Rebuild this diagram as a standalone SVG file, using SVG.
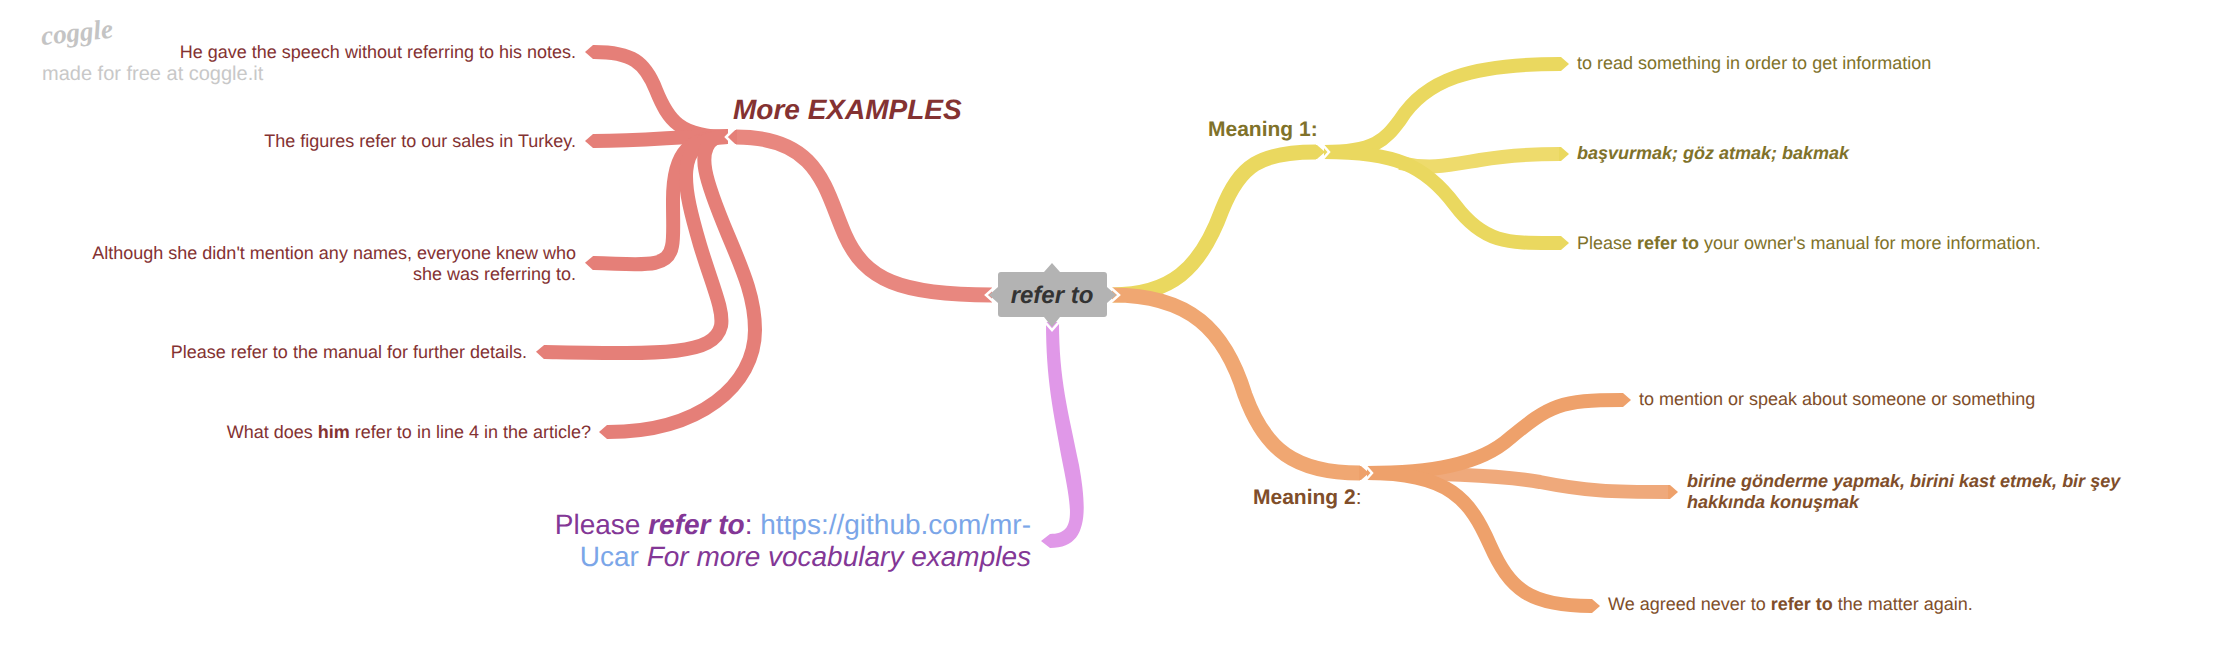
<svg xmlns="http://www.w3.org/2000/svg" width="2220" height="664" viewBox="0 0 2220 664">
<style>
text{font-family:"Liberation Sans",Arial,sans-serif;font-size:18px;text-rendering:geometricPrecision}
.c{fill:none;stroke-width:14;stroke-linecap:butt}
.r{stroke:#e57f78}.rm{stroke:#e8877f;stroke-width:15}.y{stroke:#ead85f}.yb{stroke:#eedb6c}.ym{stroke:#ead85f;stroke-width:15}.o{stroke:#eea16b}.ob{stroke:#efa97b}.om{stroke:#f0a772;stroke-width:15}
.t{fill:#fff}.n{fill:none;stroke:#fff;stroke-width:2.5}
.tr{fill:#843232}.ty{fill:#80722a}.to{fill:#804e2a}.tp{fill:#833796}
.b{font-weight:bold}.i{font-style:italic}
</style>
<defs>
<marker id="mr" markerUnits="userSpaceOnUse" markerWidth="14" markerHeight="16" refX="1" refY="8" orient="auto"><path d="M0 1H2L10 8L2 15H0Z" fill="#e57f78"/></marker>
<marker id="my" markerUnits="userSpaceOnUse" markerWidth="14" markerHeight="16" refX="1" refY="8" orient="auto"><path d="M0 1H2L10 8L2 15H0Z" fill="#ead85f"/></marker>
<marker id="mo" markerUnits="userSpaceOnUse" markerWidth="14" markerHeight="16" refX="1" refY="8" orient="auto"><path d="M0 1H2L10 8L2 15H0Z" fill="#eea16b"/></marker>
</defs>
<g id="connectors">
<path class="c r" marker-end="url(#mr)" d="M728 137C680 137 668 120 656 90C645 62 632 52 594 52"/>
<path class="c r" marker-end="url(#mr)" d="M728 136C680 136 650 141 594 141"/>
<path class="c r" marker-end="url(#mr)" d="M728 137C690 137 673 150 673 200C673 225 674 238 672 246C668 270 640 264 594 263"/>
<path class="c r" marker-end="url(#mr)" d="M728 137C670 137 684 190 700 245C712 285 724 310 721 326C714 356 660 354 545 352"/>
<path class="c r" marker-end="url(#mr)" d="M715 138C695 150 705 180 728 235C745 275 755 300 755 330C755 385 700 432 608 432"/>
<path class="c rm" marker-end="url(#mr)" d="M992 295C900 295 865 280 845 235C825 190 820 137 736 137"/>
<path d="M1046 322C1046 380 1053 410 1063 465C1073 515 1075 534 1050 534L1041 541L1050 548C1087 548 1088 515 1079 465C1068 410 1059 380 1059 322Z" fill="#e098e8"/>
<path class="c ym" d="M1112 295C1170 295 1200 270 1222 210C1240 165 1260 152 1316 152" marker-end="url(#my)"/>
<path class="c yb" marker-end="url(#my)" d="M1400 163C1430 170 1450 165 1480 160C1510 155 1530 154 1560 154"/>
<path class="c y" marker-end="url(#my)" d="M1324 152C1375 152 1385 140 1400 120C1425 80 1470 64 1560 64"/>
<path class="c y" marker-end="url(#my)" d="M1324 152C1395 152 1425 165 1455 205C1485 245 1510 243 1560 243"/>
<path class="c om" marker-end="url(#mo)" d="M1112 295C1190 295 1225 330 1245 395C1265 450 1295 473 1360 473"/>
<path class="c ob" marker-end="url(#mo)" d="M1367 473C1440 473 1500 475 1540 482C1585 491 1610 492 1669 492"/>
<path class="c o" marker-end="url(#mo)" d="M1367 473C1430 473 1480 465 1510 438C1550 405 1560 400 1622 400"/>
<path class="c o" marker-end="url(#mo)" d="M1367 473C1450 473 1470 500 1490 545C1510 590 1530 606 1591 606"/>
<polyline class="n" points="734,129 726,137 734,145"/>
<polyline class="n" points="1322,144 1329,152 1322,160"/>
<polyline class="n" points="1365,465 1372,473 1365,481"/>
</g>
<g id="root">
<path d="M1001 272H1044L1052 263L1060 272H1104Q1107 272 1107 275V287L1116 295L1107 303V314Q1107 317 1104 317H1060L1052 327L1044 317H1001Q998 317 998 314V303L989 295L998 287V275Q998 272 1001 272Z" fill="#b3b3b3"/>
<polyline class="n" points="1044,321 1052,330 1060,321"/>
<polyline class="n" points="995,287 986,295 995,303"/>
<polyline class="n" points="1110,287 1119,295 1110,303"/>
<text x="1052" y="303" text-anchor="middle" class="b i" style="font-size:24px" fill="#333">refer to</text>
</g>
<g id="watermark">
<text x="42" y="45" transform="rotate(-6 42 45)" class="b i" style="font-family:'Liberation Serif',serif;font-size:27px" fill="#c4c4c4">coggle</text>
<text x="42" y="80" style="font-size:20px" fill="#c8c8c8">made for free at coggle.it</text>
</g>
<g id="more-examples"><text x="733" y="119" class="b i tr" style="font-size:28px">More EXAMPLES</text></g>
<g id="ex1"><text x="576" y="58" text-anchor="end" class="tr">He gave the speech without referring to his notes.</text></g>
<g id="ex2"><text x="576" y="147" text-anchor="end" class="tr">The figures refer to our sales in Turkey.</text></g>
<g id="ex3"><text x="576" y="259" text-anchor="end" class="tr">Although she didn't mention any names, everyone knew who</text><text x="576" y="280" text-anchor="end" class="tr">she was referring to.</text></g>
<g id="ex4"><text x="527" y="358" text-anchor="end" class="tr">Please refer to the manual for further details.</text></g>
<g id="ex5"><text x="591" y="438" text-anchor="end" class="tr">What does <tspan class="b">him</tspan> refer to in line 4 in the article?</text></g>
<g id="note"><text x="1031" y="534" text-anchor="end" class="tp" style="font-size:28px">Please <tspan class="b i">refer to</tspan>: <tspan fill="#7ba6e8">https://github.com/mr-</tspan></text><text x="1031" y="566" text-anchor="end" class="tp" style="font-size:28px"><tspan fill="#7ba6e8">Ucar</tspan> <tspan class="i">For more vocabulary examples</tspan></text></g>
<g id="meaning1"><text x="1208" y="136" class="b ty" style="font-size:21px">Meaning 1:</text></g>
<g id="m1a"><text x="1577" y="69" class="ty">to read something in order to get information</text></g>
<g id="m1b"><text x="1577" y="159" class="b i ty">başvurmak; göz atmak; bakmak</text></g>
<g id="m1c"><text x="1577" y="249" class="ty">Please <tspan class="b">refer to</tspan> your owner's manual for more information.</text></g>
<g id="meaning2"><text x="1253" y="504" class="to" style="font-size:21px"><tspan class="b">Meaning 2</tspan>:</text></g>
<g id="m2a"><text x="1639" y="405" class="to">to mention or speak about someone or something</text></g>
<g id="m2b"><text x="1687" y="487" class="b i to">birine gönderme yapmak, birini kast etmek, bir şey</text><text x="1687" y="508" class="b i to">hakkında konuşmak</text></g>
<g id="m2c"><text x="1608" y="610" class="to">We agreed never to <tspan class="b">refer to</tspan> the matter again.</text></g>
</svg>
